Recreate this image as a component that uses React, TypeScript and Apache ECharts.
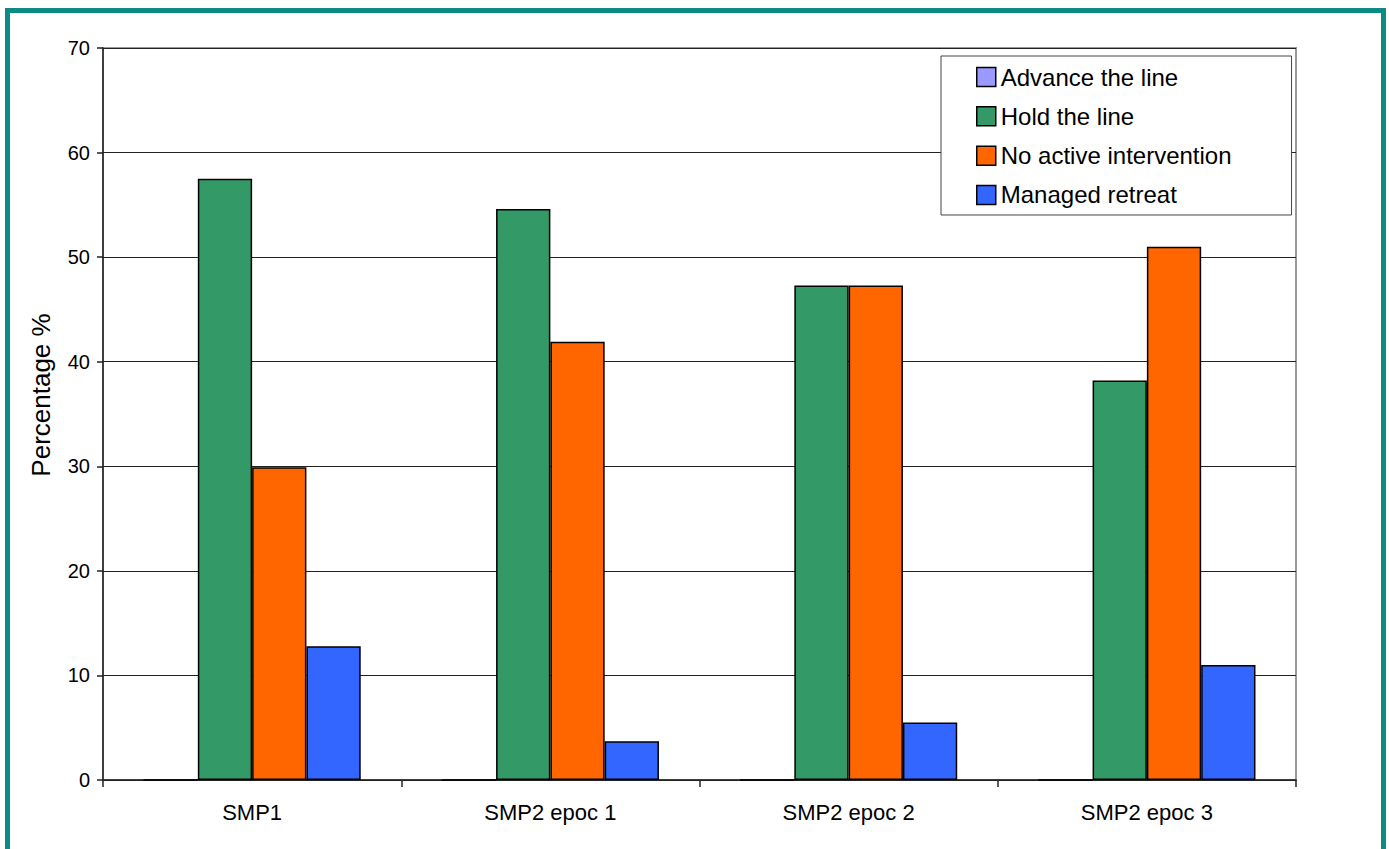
import React, { useEffect, useRef } from "react";
import * as echarts from "echarts";

const categories = ["SMP1", "SMP2 epoc 1", "SMP2 epoc 2", "SMP2 epoc 3"];
const seriesNames = ["Advance the line", "Hold the line", "No active intervention", "Managed retreat"];
const advanceTheLine = [0, 0, 0, 0];
const holdTheLine = [57.5, 54.6, 47.3, 38.2];
const noActiveIntervention = [29.9, 41.9, 47.3, 51.0];
const managedRetreat = [12.8, 3.7, 5.5, 11.0];
const seriesColors = ["#9999FF", "#339966", "#FF6600", "#3366FF"];
const yTicks = { min: 0, max: 70, interval: 10 };

const FONT = 'Arial, "Liberation Sans", sans-serif';

export default function App() {
  const ref = useRef<HTMLDivElement>(null);
  useEffect(() => {
    if (!ref.current) return;
    const chart = echarts.init(ref.current, null, { renderer: "svg" });
    const values = [advanceTheLine, holdTheLine, noActiveIntervention, managedRetreat];
    chart.setOption({
      animation: false,
      backgroundColor: "#ffffff",
      textStyle: { fontFamily: FONT, color: "#000" },
      graphic: [
        {
          type: "rect",
          shape: { x: 7.5, y: 10.5, width: 1376, height: 900 },
          style: { fill: "none", stroke: "#0a8b85", lineWidth: 5 },
          silent: true,
          z: 100,
        },
      ],
      grid: {
        left: 103,
        top: 48,
        right: 93,
        bottom: 69,
        show: true,
        borderColor: "#999",
        borderWidth: 2,
        backgroundColor: "transparent",
      },
      legend: {
        data: seriesNames,
        orient: "vertical",
        left: 941,
        top: 56,
        padding: [9, 60, 8, 35],
        itemWidth: 19,
        itemHeight: 19,
        itemGap: 15.33,
        backgroundColor: "#fff",
        borderColor: "#444",
        borderWidth: 1,
        icon: "rect",
        itemStyle: { borderColor: "#000", borderWidth: 1.5 },
        textStyle: { fontSize: 24, fontFamily: FONT, color: "#000" },
        selectedMode: false,
      },
      xAxis: {
        type: "category",
        data: categories,
        axisLine: { lineStyle: { color: "#222", width: 1.5 } },
        axisTick: { show: true, length: 7, lineStyle: { color: "#222", width: 1.5 } },
        axisLabel: { fontSize: 22, fontFamily: FONT, color: "#000", margin: 21 },
        splitLine: { show: false },
      },
      yAxis: {
        type: "value",
        min: yTicks.min,
        max: yTicks.max,
        interval: yTicks.interval,
        name: "Percentage %",
        nameLocation: "middle",
        nameRotate: 90,
        nameGap: 49,
        nameTextStyle: { fontSize: 26, fontFamily: FONT, color: "#000", padding: [0, 0, 0, 38] },
        axisLine: { show: true, lineStyle: { color: "#222", width: 1.5 } },
        axisTick: { show: true, length: 6, lineStyle: { color: "#222", width: 1.5 } },
        axisLabel: { fontSize: 20, fontFamily: FONT, color: "#000", margin: 13 },
        splitLine: { show: true, lineStyle: { color: "#222", width: 1 } },
      },
      series: seriesNames.map((name, i) => ({
        name,
        type: "bar",
        data: values[i],
        barWidth: 54.3,
        barGap: "0%",
        itemStyle: { color: seriesColors[i], borderColor: "#000", borderWidth: 1.5 },
      })),
    });
    return () => chart.dispose();
  }, []);
  return (
    <div
      ref={ref}
      style={{ position: "absolute", left: 0, top: 0, width: 1389, height: 849 }}
    />
  );
}
